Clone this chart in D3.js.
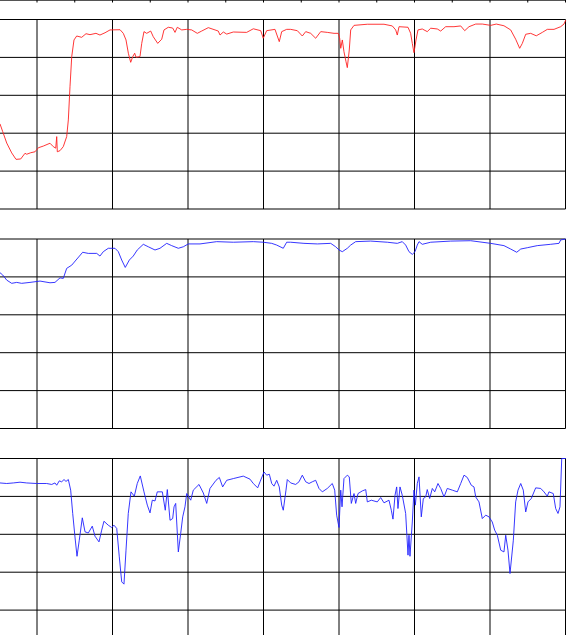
<!DOCTYPE html>
<html>
<head>
<meta charset="utf-8">
<script src="https://cdn.jsdelivr.net/npm/d3@7"></script>
<style>
  body { margin: 0; background: #fff; }
  svg { display: block; }
  .grid line { stroke: #000; stroke-width: 1; }
  .frame { fill: none; stroke: #000; stroke-width: 1; }
</style>
</head>
<body>
<div id="chart"></div>
<script>
// sample index (x) and level in % (y) for each trace
var redT = [51.0, 54.6, 59.9, 66.5, 72.2, 78.4, 84.1, 86.4, 91.7, 97.4, 101.7, 108.3, 117.2, 121.6, 124.8, 126.1, 126.9, 130.5, 134.8, 139.3,
  141.5, 143.7, 146.0, 149.0, 152.6, 159.2, 164.9, 170.2, 178.1, 183.4, 190.1, 196.7, 210.0, 214.3, 217.9, 221.0, 224.1, 226.8, 229.4, 231.1,
  236.4, 238.7, 241.7, 245.3, 250.6, 254.0, 259.9, 265.2, 268.2, 273.9, 279.7, 282.8, 285.8, 291.7, 298.3, 304.9, 312.3, 318.1, 326.9, 335.8,
  340.1, 342.4, 346.8, 351.3, 360.0, 377.7, 386.5, 396.3, 399.7, 404.2, 415.2, 420.9, 424.1, 430.7, 436.0, 444.8, 451.4, 455.9, 462.5, 469.1,
  475.8, 484.5, 493.4, 499.1, 500.9, 502.3, 504.4, 506.6, 509.3, 511.0, 513.6, 515.5, 519.9, 537.5, 559.6, 570.6, 575.1, 577.2, 579.5, 591.4,
  594.9, 597.1, 599.3, 602.0, 604.6, 610.3, 616.9, 621.5, 630.2, 634.7, 641.3, 652.3, 661.2, 666.5, 672.2, 681.1, 689.8, 700.9, 708.3, 718.5,
  727.4, 734.0, 739.3, 742.8, 747.3, 753.9, 761.3, 769.3, 775.9, 784.8, 793.6, 798.0, 800.3];
var redV = [44.9, 40.8, 34.8, 29.6, 26.2, 26.4, 29.4, 28.9, 29.7, 30.2, 32.3, 33.2, 34.7, 32.9, 32.1, 38.2, 30.2, 30.8, 32.9, 38.2,
  47.0, 64.5, 80.4, 89.2, 91.3, 90.6, 92.5, 92.0, 92.7, 91.8, 93.0, 94.5, 94.6, 92.7, 89.2, 82.2, 77.4, 80.4, 82.2, 80.1,
  80.4, 87.4, 93.6, 92.7, 93.9, 90.9, 87.4, 89.6, 94.5, 95.9, 95.5, 93.2, 95.9, 94.5, 94.8, 94.5, 92.7, 93.9, 95.7, 94.5,
  93.9, 91.8, 93.4, 92.3, 93.4, 93.2, 95.1, 94.1, 90.1, 94.1, 94.8, 88.3, 93.6, 94.8, 94.8, 94.1, 91.3, 93.6, 92.7, 90.1,
  93.6, 93.2, 92.7, 92.7, 90.1, 84.8, 89.2, 83.0, 77.7, 74.6, 83.9, 94.5, 96.9, 97.5, 97.5, 96.6, 94.5, 91.8, 96.2, 95.9,
  92.7, 87.4, 82.5, 89.2, 94.5, 95.0, 93.6, 95.4, 95.0, 93.9, 96.2, 96.2, 96.6, 94.1, 96.2, 97.6, 97.6, 96.9, 97.6, 96.7,
  94.5, 89.6, 84.8, 87.4, 92.2, 92.7, 91.4, 93.2, 94.8, 94.8, 96.2, 97.6, 99.7];

var blueT = [51.0, 54.6, 59.9, 66.5, 73.1, 79.7, 90.7, 104.0, 117.2, 123.8, 130.5, 134.8, 139.3, 146.0, 151.7, 160.5, 167.9, 179.1, 183.4, 187.8,
  194.4, 203.3, 207.7, 212.2, 216.9, 222.3, 227.5, 232.8, 240.8, 247.4, 256.3, 262.9, 271.8, 278.4, 287.2, 293.8, 300.4, 315.9, 338.0, 360.0,
  386.5, 399.7, 410.9, 417.5, 426.2, 430.7, 436.0, 453.6, 471.3, 489.0, 495.6, 500.0, 504.4, 511.0, 515.5, 522.1, 541.9, 564.0, 577.2, 583.8,
  588.3, 592.7, 597.1, 600.7, 603.7, 606.0, 610.3, 621.5, 648.0, 674.4, 700.9, 718.5, 727.4, 735.4, 740.7, 749.4, 762.6, 780.4, 791.4, 793.6, 800.3];
var blueV = [82.2, 81.0, 78.3, 76.6, 77.1, 76.6, 77.1, 77.8, 76.9, 77.1, 79.5, 79.2, 84.5, 86.2, 88.9, 93.0, 92.4, 92.4, 91.0, 93.3,
  95.1, 95.1, 93.3, 88.9, 85.0, 88.9, 91.0, 94.2, 97.2, 95.9, 94.2, 95.1, 97.7, 96.5, 95.1, 95.9, 97.4, 97.4, 98.6, 98.3,
  98.6, 98.3, 97.7, 96.8, 95.1, 98.3, 98.3, 97.7, 97.4, 97.7, 95.9, 94.2, 93.3, 95.1, 96.8, 98.6, 98.9, 98.3, 97.7, 98.6,
  96.8, 93.3, 91.9, 93.3, 96.8, 98.6, 97.2, 98.3, 98.9, 99.1, 97.7, 96.5, 94.7, 93.0, 94.7, 95.4, 96.5, 97.2, 97.7, 99.5, 100];

var lowerT = [51.0, 59.9, 68.6, 77.5, 86.4, 99.6, 112.8, 119.5, 123.8, 126.1, 129.5, 132.7, 135.8, 138.4, 141.5, 144.6, 147.3, 150.3, 153.0, 156.0,
  160.0, 163.6, 168.0, 173.2, 176.8, 182.1, 185.7, 188.7, 194.4, 198.9, 202.0, 205.6, 209.0, 212.2, 215.2, 217.9, 220.9, 224.5, 228.9, 232.8,
  236.8, 241.7, 246.1, 249.7, 252.7, 256.3, 259.3, 266.0, 269.9, 272.6, 276.2, 279.7, 281.5, 283.7, 287.2, 290.3, 293.0, 296.0, 298.3, 303.6,
  307.0, 314.6, 320.3, 324.8, 329.1, 337.1, 341.5, 345.9, 351.3, 360.0, 373.2, 382.1, 386.5, 392.3, 395.4, 400.7, 404.2, 407.7, 410.9, 413.9,
  417.5, 420.9, 424.1, 426.2, 429.8, 431.5, 436.0, 442.6, 447.0, 451.4, 455.9, 460.3, 464.6, 469.1, 473.5, 477.9, 484.5, 491.1, 494.3, 496.9,
  500.0, 502.3, 504.0, 506.6, 511.0, 513.6, 516.3, 519.9, 522.1, 525.2, 530.9, 535.4, 537.5, 542.8, 550.7, 555.2, 559.6, 566.2, 569.3, 571.5,
  574.2, 576.4, 578.1, 580.8, 583.8, 588.3, 591.4, 592.7, 594.0, 597.1, 599.3, 601.1, 603.7, 606.0, 609.0, 611.7, 614.8, 616.9, 620.1, 623.6,
  626.8, 631.1, 634.7, 639.1, 643.4, 650.1, 656.7, 661.2, 665.6, 669.9, 675.2, 678.8, 681.1, 685.4, 689.8, 694.3, 698.7, 703.0, 706.2, 709.7,
  714.2, 718.5, 720.8, 723.8, 726.5, 730.9, 734.0, 737.1, 740.7, 744.1, 747.3, 750.3, 754.7, 760.5, 767.2, 771.5, 775.9, 778.1, 783.8, 787.0,
  790.1, 792.7, 795.0, 800.3];
var lowerV = [87.1, 86.8, 87.1, 87.5, 87.1, 86.8, 86.8, 86.3, 87.1, 85.9, 88.2, 87.7, 88.9, 87.9, 88.9, 83.3, 71.0, 58.6, 48.4, 56.9,
  68.7, 61.3, 60.7, 64.3, 59.0, 56.0, 62.2, 66.9, 64.8, 63.6, 64.8, 63.1, 48.1, 34.9, 33.7, 51.6, 71.0, 82.4, 80.1, 86.8,
  90.8, 82.4, 75.4, 71.3, 78.0, 77.6, 82.4, 82.4, 72.7, 83.6, 67.4, 68.3, 74.5, 76.3, 50.7, 60.4, 69.2, 74.5, 81.5, 78.0,
  83.3, 86.3, 81.8, 76.3, 84.2, 88.5, 90.0, 85.0, 88.5, 89.4, 90.7, 89.1, 86.8, 84.5, 87.7, 92.9, 91.2, 91.7, 86.8, 85.4,
  88.5, 85.0, 75.4, 72.7, 83.3, 88.9, 87.1, 86.3, 87.7, 91.2, 87.7, 86.8, 87.7, 88.5, 84.2, 82.4, 84.2, 86.8, 83.3, 70.1,
  63.6, 83.3, 74.5, 89.4, 91.2, 90.3, 76.3, 81.5, 76.3, 81.5, 82.9, 83.6, 77.1, 78.0, 77.1, 79.4, 76.6, 78.0, 72.7, 68.0,
  80.6, 85.0, 73.6, 85.0, 80.6, 71.0, 49.0, 59.5, 48.4, 66.5, 83.3, 75.4, 86.8, 90.3, 69.2, 78.9, 79.7, 83.6, 78.9, 84.2,
  82.4, 86.8, 84.2, 79.7, 84.2, 83.3, 82.4, 86.8, 91.2, 90.0, 85.9, 85.0, 79.7, 77.1, 68.3, 70.1, 69.2, 66.5, 62.2, 59.5,
  51.6, 50.7, 59.5, 51.6, 39.3, 56.9, 77.1, 83.3, 86.8, 83.3, 71.8, 77.1, 78.9, 84.5, 84.2, 82.4, 80.1, 82.4, 81.5, 73.6,
  71.0, 74.5, 100, 100];

var xTicks = d3.range(0, 801, 100);
var yTicks = d3.range(0, 101, 20);

var width = 574, height = 635;
var panelTops = [19.5, 239, 458.5];
var panelH = 189.5;

var x = d3.scaleLinear().domain([0, 800]).range([-38.5, 565.5]);

var svg = d3.select("#chart").append("svg")
    .attr("width", width)
    .attr("height", height);

// bottom edge of the panel above (cut off)
svg.append("line")
    .attr("x1", x(0)).attr("x2", x(800))
    .attr("y1", 0.5).attr("y2", 0.5)
    .attr("stroke", "#555").attr("stroke-width", 1.2);
svg.append("g").selectAll("line")
    .data(d3.range(0, 801, 50))
    .enter().append("line")
    .attr("x1", function (d) { return x(d); })
    .attr("x2", function (d) { return x(d); })
    .attr("y1", 0).attr("y2", 2.5)
    .attr("stroke", "#000");

var panels = [
    { t: redT, v: redV, color: "#ff2020" },
    { t: blueT, v: blueV, color: "#2020ff" },
    { t: lowerT, v: lowerV, color: "#2020ff" }
];

panels.forEach(function (p, i) {
    var top = panelTops[i];
    var y = d3.scaleLinear().domain([0, 100]).range([top + panelH, top]);

    var g = svg.append("g");

    g.append("g").attr("class", "grid").selectAll("line")
        .data(yTicks)
        .enter().append("line")
        .attr("x1", x(0)).attr("x2", x(800))
        .attr("y1", function (d) { return y(d); })
        .attr("y2", function (d) { return y(d); });

    g.append("g").attr("class", "grid").selectAll("line")
        .data(xTicks)
        .enter().append("line")
        .attr("x1", function (d) { return x(d); })
        .attr("x2", function (d) { return x(d); })
        .attr("y1", y(0)).attr("y2", y(100));

    var pts = p.t.map(function (t, k) { return [t, p.v[k]]; });
    var line = d3.line()
        .x(function (d) { return x(d[0]); })
        .y(function (d) { return y(d[1]); });

    g.append("path")
        .datum(pts)
        .attr("fill", "none")
        .attr("stroke", p.color)
        .attr("stroke-width", 0.9)
        .attr("stroke-linejoin", "round")
        .attr("d", line);
});
</script>
</body>
</html>
